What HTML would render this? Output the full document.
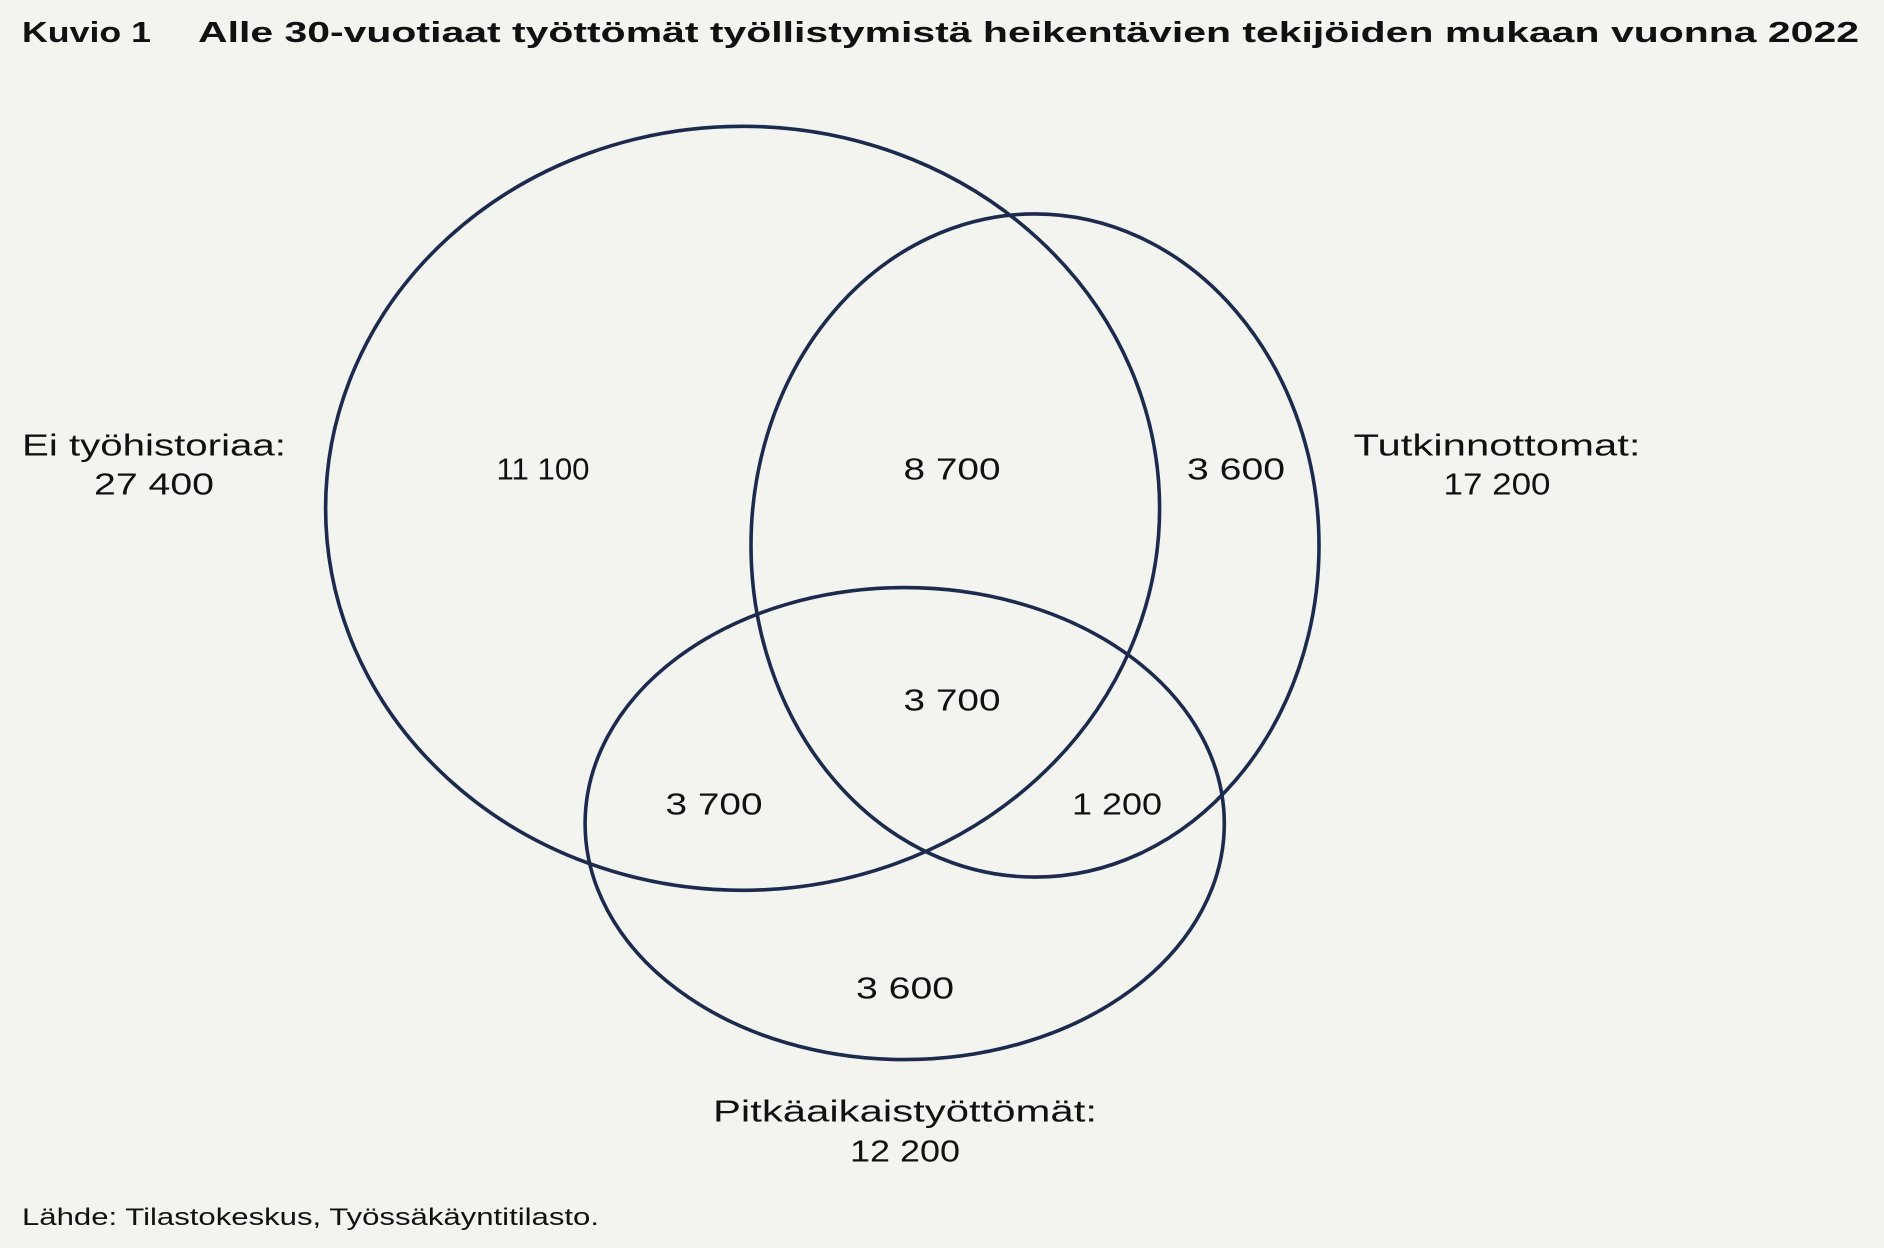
<!DOCTYPE html>
<html><head><meta charset="utf-8">
<style>
html,body{margin:0;padding:0;background:#f3f3ef;}
svg{display:block;}
text{font-family:"Liberation Sans",sans-serif;fill:#111;}
</style></head>
<body>
<svg width="1884" height="1248" viewBox="0 0 1884 1248" xmlns="http://www.w3.org/2000/svg">
<rect width="1884" height="1248" fill="#f3f3ef"/>
<text x="22" y="42" font-size="29" font-weight="bold" textLength="129" lengthAdjust="spacingAndGlyphs">Kuvio 1</text>
<text x="198" y="42" font-size="29" font-weight="bold" textLength="1661" lengthAdjust="spacingAndGlyphs">Alle 30-vuotiaat työttömät työllistymistä heikentävien tekijöiden mukaan vuonna 2022</text>
<g fill="none" stroke="#1c2b4d" stroke-width="3.6">
<ellipse cx="742.6" cy="508.3" rx="417" ry="382"/>
<ellipse cx="1035" cy="545.5" rx="284" ry="331.6"/>
<ellipse cx="904.7" cy="823.6" rx="319.6" ry="236"/>
</g>
<g font-size="31" text-anchor="middle" dominant-baseline="central" lengthAdjust="spacingAndGlyphs">
<text x="154" y="445" textLength="264" lengthAdjust="spacingAndGlyphs">Ei työhistoriaa:</text>
<text x="154" y="484" textLength="120" lengthAdjust="spacingAndGlyphs">27 400</text>
<text x="543" y="469" textLength="93" lengthAdjust="spacingAndGlyphs">11 100</text>
<text x="952" y="469" textLength="97" lengthAdjust="spacingAndGlyphs">8 700</text>
<text x="1236" y="469" textLength="98" lengthAdjust="spacingAndGlyphs">3 600</text>
<text x="1497" y="445" textLength="287" lengthAdjust="spacingAndGlyphs">Tutkinnottomat:</text>
<text x="1497" y="484" textLength="107" lengthAdjust="spacingAndGlyphs">17 200</text>
<text x="952" y="700" textLength="97" lengthAdjust="spacingAndGlyphs">3 700</text>
<text x="714" y="804" textLength="97" lengthAdjust="spacingAndGlyphs">3 700</text>
<text x="1117" y="804" textLength="90" lengthAdjust="spacingAndGlyphs">1 200</text>
<text x="905" y="988" textLength="98" lengthAdjust="spacingAndGlyphs">3 600</text>
<text x="905" y="1111" textLength="384" lengthAdjust="spacingAndGlyphs">Pitkäaikaistyöttömät:</text>
<text x="905" y="1151" textLength="110" lengthAdjust="spacingAndGlyphs">12 200</text>
</g>
<text x="22" y="1225" font-size="24" textLength="577" lengthAdjust="spacingAndGlyphs">Lähde: Tilastokeskus, Työssäkäyntitilasto.</text>
</svg>
</body></html>
